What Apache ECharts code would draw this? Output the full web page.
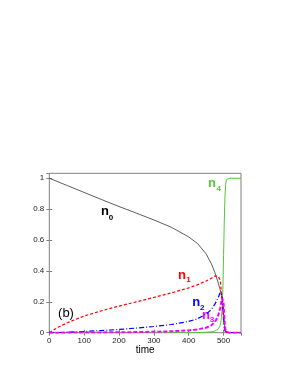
<!DOCTYPE html>
<html>
<head>
<meta charset="utf-8">
<script src="https://cdn.jsdelivr.net/npm/echarts@6/dist/echarts.min.js"></script>
<style>html,body{margin:0;padding:0;background:#fff}#c{width:291px;height:376px}</style>
</head>
<body>
<div id="c"></div>
<script>
// time grid (shared by all series)
const times = [0,25,50,100,150,200,250,300,350,400,425,450,465,475,480,485,490,492,494,496,498,500,502,504,506,508,510,515,530,550];
const n0 = [1,0.977,0.954,0.908,0.862,0.817,0.774,0.73,0.683,0.62,0.578,0.51,0.447,0.39,0.355,0.32,0.28,0.26,0.238,0.21,0.17,0.12,0.07,0.03,0.01,0,0,0,0,0];
const n1 = [0,0.035,0.063,0.108,0.142,0.172,0.2,0.228,0.258,0.29,0.31,0.335,0.352,0.367,0.37,0.365,0.34,0.31,0.26,0.2,0.14,0.08,0.04,0.015,0.005,0,0,0,0,0];
const n2 = [0,0.001,0.003,0.008,0.014,0.021,0.03,0.04,0.053,0.073,0.09,0.12,0.15,0.185,0.205,0.23,0.26,0.272,0.27,0.24,0.18,0.1,0.04,0.012,0.003,0,0,0,0,0];
const n3 = [0,0,0.0005,0.001,0.002,0.003,0.004,0.006,0.009,0.015,0.021,0.032,0.048,0.07,0.088,0.115,0.155,0.18,0.205,0.225,0.23,0.19,0.11,0.04,0.01,0.002,0,0,0,0];
const n4 = [0,0,0,0,0,0,0,0,0,0,0.001,0.003,0.006,0.01,0.015,0.025,0.045,0.065,0.1,0.17,0.28,0.5,0.72,0.88,0.96,0.99,0.997,1,1,1];
const xTicks = [0,100,200,300,400,500];
const yTicks = [0,0.2,0.4,0.6,0.8,1];

const pairs = arr => times.map((t,i)=>[t,arr[i]]);
const FONT = "'Liberation Sans', Arial, sans-serif";
const chart = echarts.init(document.getElementById('c'), null, {renderer:'canvas'});

const xLabelFmt = v => xTicks.indexOf(v) >= 0 ? String(v) : '';
const yLabelFmt = v => { const r = yTicks.find(t => Math.abs(t - v) < 1e-6); return r === undefined ? '' : String(r); };

function line(data, color, width, type) {
  return { type:'line', data: pairs(data), showSymbol:false, symbol:'none', animation:false,
    smooth:false, lineStyle:{ color, width, type }, z: 3 };
}

function lab(txt, sub, cx, cy, sx, sy, color) {
  return [
    { type:'text', style:{ text: txt, x: cx, y: cy, fill: color, font: 'bold 13px ' + FONT, align:'center', verticalAlign:'middle' } },
    { type:'text', style:{ text: sub, x: sx, y: sy, fill: color, font: 'bold 8px ' + FONT, align:'center', verticalAlign:'middle' } }
  ];
}

const option = {
  backgroundColor:'#fff',
  animation:false,
  grid:{ left:49.3, right:50, top:173.3, bottom:43.3, show:true, borderColor:'#808080', borderWidth:1, outerBoundsMode:'none', containLabel:false },
  xAxis:[
    { type:'value', min:0, max:550, interval:100,
      name:'time', nameLocation:'middle', nameGap:12, nameTextStyle:{ fontSize:10, color:'#000', fontFamily:FONT },
      axisLine:{show:false}, splitLine:{show:false},
      axisTick:{ show:true, inside:true, length:3, lineStyle:{color:'#808080'} },
      axisLabel:{ fontSize:8, color:'#222', fontFamily:FONT, margin:4, formatter:xLabelFmt, showMaxLabel:false } },
    { type:'value', position:'top', min:0, max:550, interval:100,
      axisLine:{show:false}, splitLine:{show:false}, axisLabel:{show:false},
      axisTick:{ show:true, inside:true, length:3, lineStyle:{color:'#808080'} } }
  ],
  yAxis:[
    { type:'value', min:0, max:1.032, interval:0.2,
      axisLine:{show:false}, splitLine:{show:false},
      axisTick:{ show:true, inside:true, length:3, lineStyle:{color:'#808080'} },
      axisLabel:{ fontSize:8, color:'#222', fontFamily:FONT, margin:5, formatter:yLabelFmt, showMaxLabel:false } },
    { type:'value', position:'right', min:0, max:1.032, interval:0.2,
      axisLine:{show:false}, splitLine:{show:false}, axisLabel:{show:false},
      axisTick:{ show:true, inside:true, length:3, lineStyle:{color:'#808080'} } }
  ],
  series:[
    line(n0, '#333333', 0.8, 'solid'),
    line(n4, '#55c43a', 1, 'solid'),
    line(n1, '#ff0000', 1.2, [3,2]),
    line(n2, '#0000ff', 1.2, [5,2,1,2]),
    line(n3, '#ff00ff', 2, [4,2])
  ],
  graphic:[
    ...lab('n','0',105,211,111,217.5,'#000'),
    ...lab('n','1',182,275.5,188.5,280,'#ff0000'),
    ...lab('n','2',196.3,302.5,202.3,308,'#0000ff'),
    ...lab('n','3',206,315.5,212,320,'#ff00ff'),
    ...lab('n','4',212,183.5,218.7,189,'#55c43a'),
    { type:'text', style:{ text:'(b)', x:66, y:313.3, fill:'#000', font:'13px ' + FONT, align:'center', verticalAlign:'middle' } }
  ]
};
chart.setOption(option);
</script>
</body>
</html>
